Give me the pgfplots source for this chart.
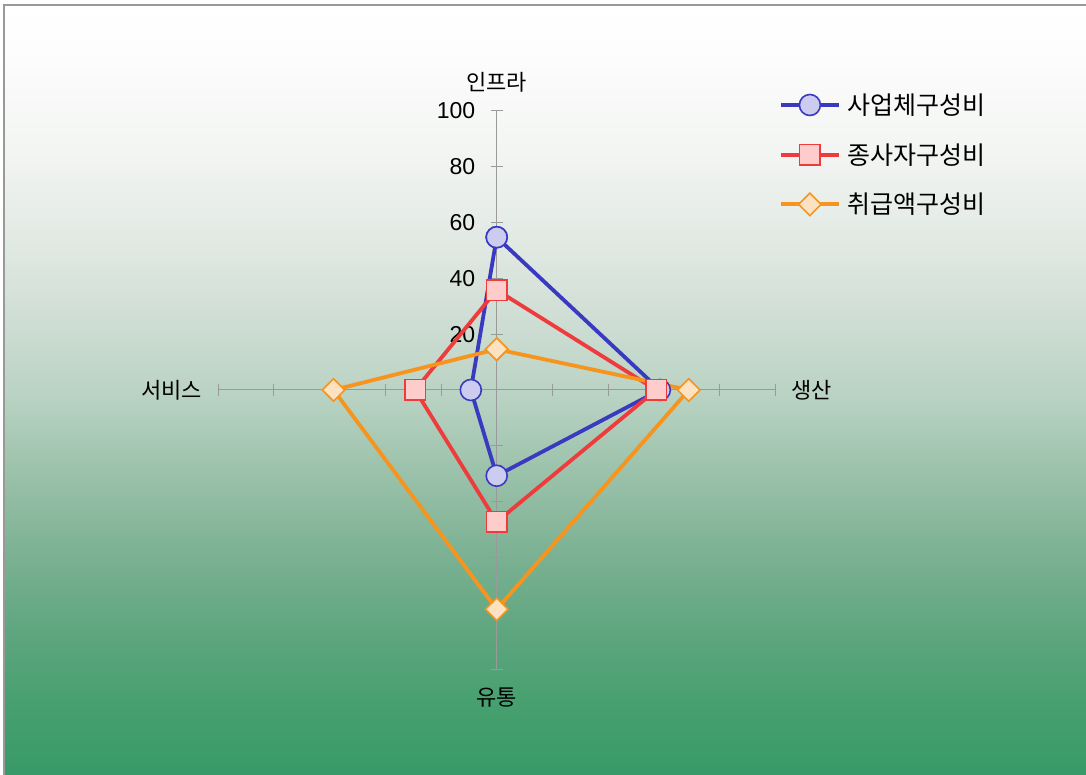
\documentclass[border=0pt]{standalone}
\usepackage{fontspec}
\setmainfont{Liberation Sans}
\newfontfamily\kr{Noto Sans CJK KR}
\usepackage{pgfplots}
\usepackage{pgfplotstable}
\pgfplotsset{compat=1.18}

\definecolor{framegray}{HTML}{999999}
\definecolor{axgray}{HTML}{9A9A9A}
\definecolor{bizline}{HTML}{3A3AC0}
\definecolor{bizfill}{HTML}{CCCCF0}
\definecolor{empline}{HTML}{EE3B3B}
\definecolor{empfill}{HTML}{FFCCCC}
\definecolor{saleline}{HTML}{F7941D}
\definecolor{salefill}{HTML}{FDE2C2}

% background gradient stops, bottom to top
\definecolor{bgA}{HTML}{389A68}
\definecolor{bgB}{HTML}{48A070}
\definecolor{bgC}{HTML}{5FA67F}
\definecolor{bgD}{HTML}{7DB294}
\definecolor{bgE}{HTML}{9CC2AB}
\definecolor{bgF}{HTML}{B8D2C2}
\definecolor{bgG}{HTML}{CCDCD2}
\definecolor{bgH}{HTML}{E0E8E2}
\definecolor{bgI}{HTML}{F3F5F3}
\definecolor{bgJ}{HTML}{FCFDFC}
\pgfdeclareverticalshading{panelbg}{100bp}{
  color(0bp)=(bgA); color(25bp)=(bgA); color(29.9bp)=(bgB);
  color(34.4bp)=(bgC); color(39.6bp)=(bgD); color(44.8bp)=(bgE);
  color(49.4bp)=(bgF); color(53.9bp)=(bgG); color(59.1bp)=(bgH);
  color(65.6bp)=(bgI); color(72.1bp)=(bgJ); color(75bp)=(white);
  color(100bp)=(white)}

% angle of each spoke (deg) and the three composition ratios (%)
\pgfplotstableread{
angle biz  emp  sales
90    54.7 35.8 14.6
0     58.6 57.3 69.0
270   30.7 47.2 78.5
180   9.3  29.3 58.6
90    54.7 35.8 14.6
}\radar

% tick labels drawn above the plotted series
\pgfplotsset{
  layers/labels on top/.define layer set={
    axis background,axis grid,axis ticks,axis lines,main,
    axis tick labels,axis descriptions,axis foreground}{},
}

\tikzset{ticklab/.style={font=\fontsize{23}{23}\selectfont, anchor=east, xshift=-12pt}}

\pgfplotsset{
  bizstyle/.style={bizline, line width=3.8pt, mark=*, mark size=10.5pt,
    mark options={fill=bizfill, draw=bizline, line width=1.6pt}},
  empstyle/.style={empline, line width=3.8pt, mark=square*, mark size=10.3pt,
    mark options={fill=empfill, draw=empline, line width=1.6pt}},
  salestyle/.style={saleline, line width=3.8pt, mark=diamond*, mark size=11.2pt,
    mark options={fill=salefill, draw=saleline, line width=1.6pt, xscale=1.333}},
  /pgfplots/table/spoke/.style={
    x expr={\thisrow{#1}*cos(\thisrow{angle})},
    y expr={\thisrow{#1}*sin(\thisrow{angle})}},
}

\begin{document}
\begin{tikzpicture}[x=1pt,y=1pt]
\fill[white] (0,0) rectangle (1086,775);
\shade[shading=panelbg] (4,0) rectangle (1086,770);
\draw[framegray, line width=2] (4,0) -- (4,770) -- (1086,770);

\begin{axis}[
  set layers=labels on top,
  at={(496.7pt,385pt)}, anchor=center,
  scale only axis, width=556.8pt, height=558.6pt,
  xmin=-100, xmax=100, ymin=-100, ymax=100,
  axis lines=center,
  axis line style={axgray, line width=1pt, -},
  xtick={-100,-80,...,100}, ytick={-100,-80,...,100},
  xticklabels={,,,,,,,,,,},
  yticklabels={,,,,,0,20,40,60,80,100},
  tick style={axgray, line width=1pt},
  major tick length=12pt, tick align=center,
  yticklabel style={ticklab},
  /pgf/number format/assume math mode=true,
  clip=false,
  legend style={at={(axis description cs:1.0066,1.034)}, anchor=north west,
    draw=none, fill=none, font=\kr\fontsize{25}{25}\selectfont,
    row sep=23.5pt, column sep=5pt, inner sep=0pt},
  legend cell align=left,
  legend image code/.code={\draw[mark repeat=2, mark phase=2]
    plot coordinates {(0pt,0pt)(29pt,0pt)(58pt,0pt)};},
]
% lines first, markers on top
\addplot[bizstyle, no markers, forget plot] table[spoke=biz] {\radar};
\addplot[empstyle, no markers, forget plot] table[spoke=emp] {\radar};
\addplot[salestyle, no markers, forget plot] table[spoke=sales] {\radar};
\addplot[bizstyle, only marks, forget plot] table[spoke=biz] {\radar};
\addplot[empstyle, only marks, forget plot] table[spoke=emp] {\radar};
\addplot[salestyle, only marks, forget plot] table[spoke=sales] {\radar};

\addlegendimage{bizstyle}\addlegendentry{사업체구성비}
\addlegendimage{empstyle}\addlegendentry{종사자구성비}
\addlegendimage{salestyle}\addlegendentry{취급액구성비}

% the origin label, which the centred axis lines leave out
\node[ticklab] at (axis cs:0,0) {0};

\begin{scope}[every node/.style={font=\kr\fontsize{22}{22}\selectfont}]
\node at (axis cs:0,100) [yshift=28pt] {인프라};
\node at (axis cs:0,-100) [yshift=-28pt] {유통};
\node at (axis cs:100,0) [anchor=west, xshift=13pt] {생산};
\node at (axis cs:-100,0) [anchor=east, xshift=-13pt] {서비스};
\end{scope}
\end{axis}
\pgfresetboundingbox
\useasboundingbox (0,0) rectangle (1086,775);
\end{tikzpicture}
\end{document}
